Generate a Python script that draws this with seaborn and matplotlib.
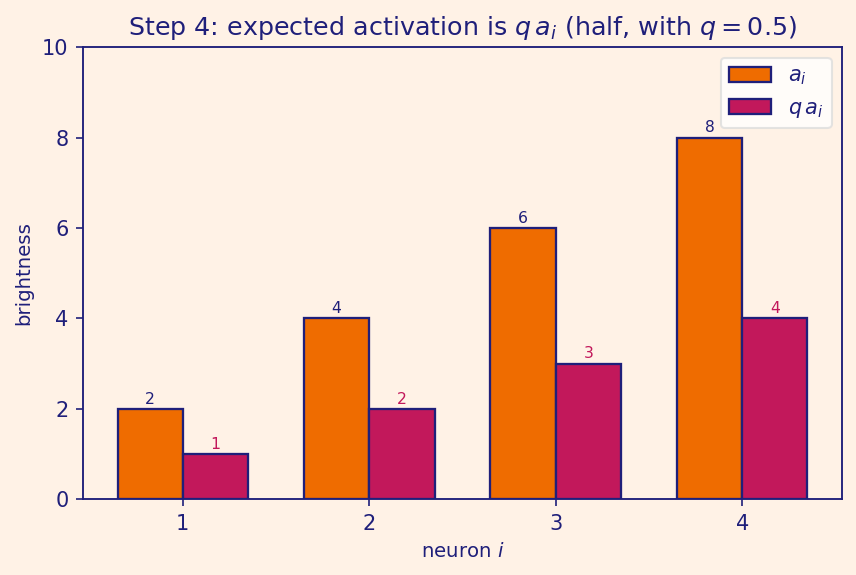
import numpy as np
import pandas as pd
import matplotlib
matplotlib.use("Agg")
import matplotlib.pyplot as plt
import seaborn as sns

# data
neurons = [1, 2, 3, 4]
a_values = [2, 4, 6, 8]
q = 0.5
qa_values = [1, 2, 3, 4]
series_labels = [r"$a_i$", r"$q\,a_i$"]

BG = "#fff2e6"
NAVY = "#1f1f7a"
ORANGE = "#ef6c00"
MAGENTA = "#c2185b"

sns.set_style("white")
plt.rcParams['font.family'] = ['DejaVu Sans']
plt.rcParams['figure.facecolor'] = BG
plt.rcParams['axes.facecolor'] = BG
plt.rcParams['text.color'] = NAVY
plt.rcParams['axes.labelcolor'] = NAVY
plt.rcParams['xtick.color'] = NAVY
plt.rcParams['ytick.color'] = NAVY
plt.rcParams['axes.edgecolor'] = NAVY

df = pd.DataFrame({
    "neuron": neurons * 2,
    "value": a_values + qa_values,
    "series": [series_labels[0]] * 4 + [series_labels[1]] * 4,
})

fig, ax = plt.subplots(figsize=(856 / 150, 575 / 150), dpi=150)
fig.subplots_adjust(left=0.097, right=0.9836, top=0.918, bottom=0.132)
sns.barplot(data=df, x="neuron", y="value", hue="series", native_scale=True,
            palette=[ORANGE, MAGENTA], saturation=1, width=0.7,
            edgecolor=NAVY, linewidth=1.1, errorbar=None, ax=ax)

# value labels
for cont, col in zip(ax.containers, [NAVY, MAGENTA]):
    ax.bar_label(cont, labels=[f"{v:g}" for v in cont.datavalues],
                 color=col, fontsize=7.5, padding=1)

ax.set_ylim(0, 10)
ax.set_xticks(neurons)
ax.set_xticklabels([str(n) for n in neurons])
ax.tick_params(axis="both", labelsize=10, length=3.5, width=0.8, left=True, bottom=True)
ax.set_xlabel(r"neuron $i$", fontsize=9.5)
ax.set_ylabel("brightness", fontsize=9.5)
ax.set_title(r"Step 4: expected activation is $q\,a_i$ (half, with $q = 0.5$)",
             fontsize=12.2, color=NAVY)
for sp in ax.spines.values():
    sp.set_visible(True)
    sp.set_color(NAVY)
    sp.set_linewidth(0.9)

leg = ax.legend(loc="upper right", fontsize=10, frameon=True, title=None)
leg.get_frame().set_facecolor("white")
leg.get_frame().set_alpha(0.8)
leg.get_frame().set_edgecolor("#dddddd")

plt.savefig("out.png", dpi=150, facecolor=BG)
